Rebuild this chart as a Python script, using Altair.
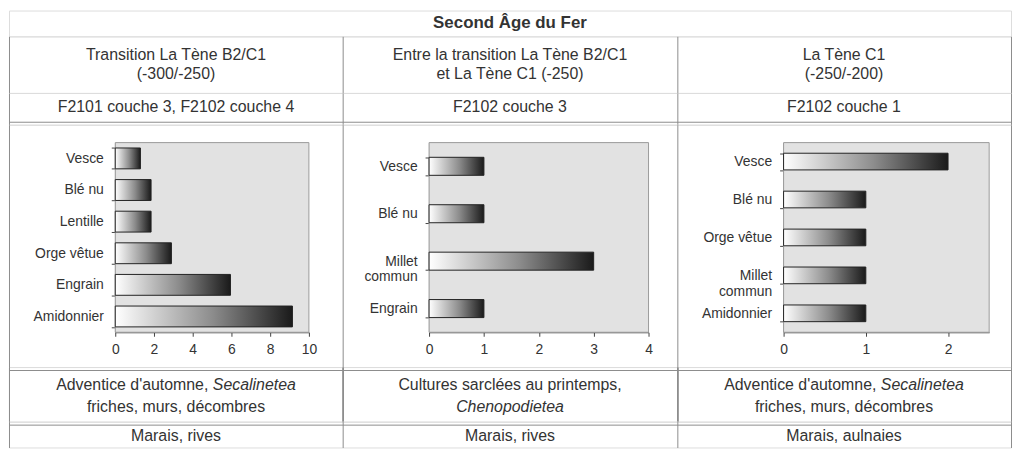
import altair as alt
import pandas as pd

# ---------------- data ----------------
TITLE = "Second Âge du Fer"
PERIODS = [
    "Transition La Tène B2/C1\n(-300/-250)",
    "Entre la transition La Tène B2/C1\net La Tène C1 (-250)",
    "La Tène C1\n(-250/-200)",
]
CONTEXTS = ["F2101 couche 3, F2102 couche 4", "F2102 couche 3", "F2102 couche 1"]

cats1 = ["Vesce", "Blé nu", "Lentille", "Orge vêtue", "Engrain", "Amidonnier"]
vals1 = [1.3, 1.85, 1.85, 2.9, 5.95, 9.15]
cats2 = ["Vesce", "Blé nu", "Millet commun", "Engrain"]
vals2 = [1, 1, 3, 1]
cats3 = ["Vesce", "Blé nu", "Orge vêtue", "Millet commun", "Amidonnier"]
vals3 = [2, 1, 1, 1, 1]
XMAX = [10, 4, 2.5]
XTICKS = [[0, 2, 4, 6, 8, 10], [0, 1, 2, 3, 4], [0, 1, 2]]

ECOLOGY = [
    [[("Adventice d'automne,", False), ("Secalinetea", True)], [("friches, murs, décombres", False)]],
    [[("Cultures sarclées au printemps,", False)], [("Chenopodietea", True)]],
    [[("Adventice d'automne,", False), ("Secalinetea", True)], [("friches, murs, décombres", False)]],
]
HABITATS = ["Marais, rives", "Marais, rives", "Marais, aulnaies"]

# ---------------- layout / style ----------------
FONT = "Liberation Sans"
TXT = "#333333"
LINE = "#8c8c8c"
TOTW = 1009
COLS = ["c0", "c1", "c2"]
H_TITLE, H_PER, H_CTX, H_CHART, H_ECO, H_HAB = 26, 57, 32, 244, 55, 26
FS = 16
# plot-area placement inside the chart row (pixels, relative to the row)
PLOT_X = [(107, 302), (423, 644), (780, 987)]
PLOT_Y = (18, 209)
BAND_PAD = [0.34, 0.62, 0.56]

AW = {" ": 278, ",": 278, "'": 191, "A": 667, "S": 667, "a": 556, "b": 556, "c": 500,
      "d": 556, "e": 556, "é": 556, "f": 278, "g": 556, "h": 556, "i": 222, "l": 222,
      "m": 833, "n": 556, "o": 556, "p": 556, "r": 333, "s": 500, "t": 278, "u": 556, "v": 500}


def tw(s, size):
    return sum(AW.get(ch, 556) for ch in s) * size / 1000.0


COL_SCALE = alt.Scale(type="band", domain=COLS, paddingInner=0, paddingOuter=0)
GRID_AXIS = alt.Axis(grid=True, tickBand="extent", labels=False, ticks=False, domain=False,
                     title=None, gridColor=LINE, gridWidth=1, gridOpacity=1, orient="bottom")


def text_row(cells, h, size=FS, lh=19, bold=False, cols=COLS, width=TOTW, grid=True,
             inner=None, shift=0.0):
    n = max(len(c) for c in cells)
    pad = max((h / float(lh) - n + 1) / 2.0, 0.5)
    groups = {}
    for ci, lines in enumerate(cells):
        for li, segs in enumerate(lines):
            if len(segs) == 1:
                t, it = segs[0]
                groups.setdefault(("center", it, 0.0), []).append((cols[ci], li, t))
            else:
                gap = size * 0.28
                widths = [tw(t, size) for t, _ in segs]
                split = round(-(sum(widths) + gap) / 2.0 + widths[0], 1)
                (t0, i0), (t1, i1) = segs
                groups.setdefault(("right", i0, split), []).append((cols[ci], li, t0))
                groups.setdefault(("left", i1, round(split + gap, 1)), []).append((cols[ci], li, t1))
    xscale = alt.Scale(type="band", domain=cols, paddingInner=0, paddingOuter=0)
    xaxis = GRID_AXIS if grid else None
    yenc = alt.Y("line:O", axis=None,
                 scale=alt.Scale(type="point", domain=list(range(n)), padding=pad))
    layers = []
    for (align, italic, dx), rows in groups.items():
        df = pd.DataFrame(rows, columns=["col", "line", "t"])
        layers.append(
            alt.Chart(df).mark_text(
                align=align, dx=dx, dy=shift, font=FONT, fontSize=size, color=TXT,
                fontStyle="italic" if italic else "normal",
                fontWeight="bold" if bold else "normal",
            ).encode(x=alt.X("col:N", title=None, axis=xaxis, scale=xscale), y=yenc, text="t:N")
        )
    if inner:
        df = pd.DataFrame({"col": cols, "line": [0] * len(cols), "t": [""] * len(cols)})
        layers.append(
            alt.Chart(df).mark_text(fontSize=1).encode(
                x=alt.X("col:N", title=None, scale=xscale,
                        axis=alt.Axis(orient=inner, domain=True, domainColor=LINE, domainWidth=1,
                                      labels=False, ticks=False, grid=False, offset=-3,
                                      title=None)),
                y=yenc,
                text="t:N",
            )
        )
        return alt.layer(*layers).resolve_axis(x="independent").properties(width=width, height=h)
    return alt.layer(*layers).properties(width=width, height=h)


def plain(text):
    return [[(ln, False)] for ln in text.split("\n")]


def bar_panel(cats, vals, xmax, ticks, left, right, pad, h=H_CHART):
    top, bottom = PLOT_Y
    df = pd.DataFrame({"cat": cats, "val": vals})
    bg = pd.DataFrame({"lo": [0], "hi": [xmax]})
    xscale = alt.Scale(domain=[0, xmax], range=[left, right], nice=False, zero=True)
    xaxis = alt.Axis(
        orient="bottom", values=ticks, format="d", title=None, grid=False, offset=-(h - bottom),
        labelFont=FONT, labelFontSize=14, labelColor=TXT, labelPadding=6,
        domainColor="#444", tickColor="#444", tickSize=4, labelFlush=False,
    )
    yaxis = alt.Axis(
        orient="left", title=None, offset=-left, tickBand="extent", tickSize=4, tickColor="#444",
        domainColor="#444", labelFont=FONT, labelFontSize=14, labelColor=TXT,
        labelPadding=8, labelLimit=200, labelLineHeight=16,
        labelExpr="datum.label == 'Millet commun' ? split(datum.label, ' ') : datum.label",
    )
    back = alt.Chart(bg).mark_rect(fill="#e2e2e2", stroke="#9a9a9a", strokeWidth=1).encode(
        x=alt.X("lo:Q", scale=xscale, axis=xaxis, title=None),
        x2="hi:Q",
        y=alt.value(top),
        y2=alt.value(bottom),
    )
    bars = alt.Chart(df).mark_bar(
        color=alt.Gradient(
            gradient="linear",
            stops=[alt.GradientStop(color="#ffffff", offset=0),
                   alt.GradientStop(color="#8c8c8c", offset=0.55),
                   alt.GradientStop(color="#1a1a1a", offset=1)],
            x1=0, x2=1, y1=0, y2=0,
        ),
        stroke="#222", strokeWidth=1,
    ).encode(
        x=alt.X("val:Q", scale=xscale, axis=xaxis, title=None),
        y=alt.Y("cat:N", sort=cats, title=None,
                scale=alt.Scale(range=[top, bottom], paddingInner=pad, paddingOuter=pad / 2),
                axis=yaxis),
    )
    return alt.layer(back, bars)


grid_layer = alt.Chart(pd.DataFrame({"col": COLS, "t": [""] * 3})).mark_text(fontSize=1).encode(
    x=alt.X("col:N", title=None, scale=COL_SCALE, axis=GRID_AXIS), text="t:N"
)
panels = [
    bar_panel(c, v, m, t, PLOT_X[i][0], PLOT_X[i][1], BAND_PAD[i])
    for i, (c, v, m, t) in enumerate(zip([cats1, cats2, cats3], [vals1, vals2, vals3], XMAX, XTICKS))
]
r_chart = alt.layer(grid_layer, *panels).resolve_scale(
    x="independent", y="independent"
).resolve_axis(x="independent", y="independent").properties(width=TOTW, height=H_CHART)

title = text_row([plain(TITLE)], H_TITLE, size=17, bold=True, cols=["t"], grid=False)
r_per = text_row([plain(p) for p in PERIODS], H_PER, lh=19)
r_ctx = text_row([plain(c) for c in CONTEXTS], H_CTX, inner="bottom", shift=-1.5)
r_eco = text_row(ECOLOGY, H_ECO, lh=22, inner="top", shift=1.5)
r_hab = text_row([plain(t) for t in HABITATS], H_HAB, inner="top", shift=1.5)

chart = alt.vconcat(
    title, r_per, r_ctx, r_chart, r_eco, r_hab,
    spacing=0, bounds="flush",
).properties(padding=0).configure_view(
    stroke=LINE, strokeWidth=1, fill="white"
).configure(background="white")

chart.save("out.html", embed_options={"renderer": "svg", "actions": False})
